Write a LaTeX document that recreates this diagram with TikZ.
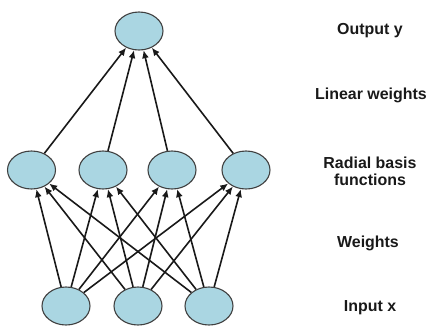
\documentclass[tikz,border=0pt]{standalone}
\usepackage{fontspec}
\setmainfont{Liberation Sans}
\usetikzlibrary{shapes.geometric,arrows.meta}
\begin{document}
\begin{tikzpicture}[x=1bp,y=-1bp,
  neuron/.style={ellipse,draw=black!75,line width=1.1bp,fill=nfill,minimum width=48bp,minimum height=38bp,inner sep=0pt},
  conn/.style={draw=black!90,line width=1.6bp,-{Latex[length=8bp,width=7bp]}},
  lbl/.style={font=\fontsize{16}{17}\selectfont\bfseries,align=center,text=black!90}]
\definecolor{nfill}{RGB}{170,214,226}
\useasboundingbox (0,0) rectangle (430,330);
\node[neuron] (o) at (139,31) {};
\node[neuron] (h1) at (31.5,170) {};
\node[neuron] (h2) at (103,170) {};
\node[neuron] (h3) at (172,170) {};
\node[neuron] (h4) at (246,170) {};
\node[neuron] (i1) at (66,306) {};
\node[neuron] (i2) at (138,306) {};
\node[neuron] (i3) at (209,306) {};
\foreach \i in {i1,i2,i3}{
  \foreach \h in {h1,h2,h3,h4}{
    \draw[conn] (\i) -- (\h);
  }
}
\foreach \h in {h1,h2,h3,h4}{
  \draw[conn] (\h) -- (o);
}
\node[lbl] (t1) at (370,31) {Output y};
\node[lbl] (t2) at (371,95) {Linear weights};
\node[lbl] (t3) at (370,171) {Radial basis\\functions};
\node[lbl] (t4) at (368,243) {Weights};
\node[lbl] (t5) at (370,308) {Input x};
\end{tikzpicture}
\end{document}
